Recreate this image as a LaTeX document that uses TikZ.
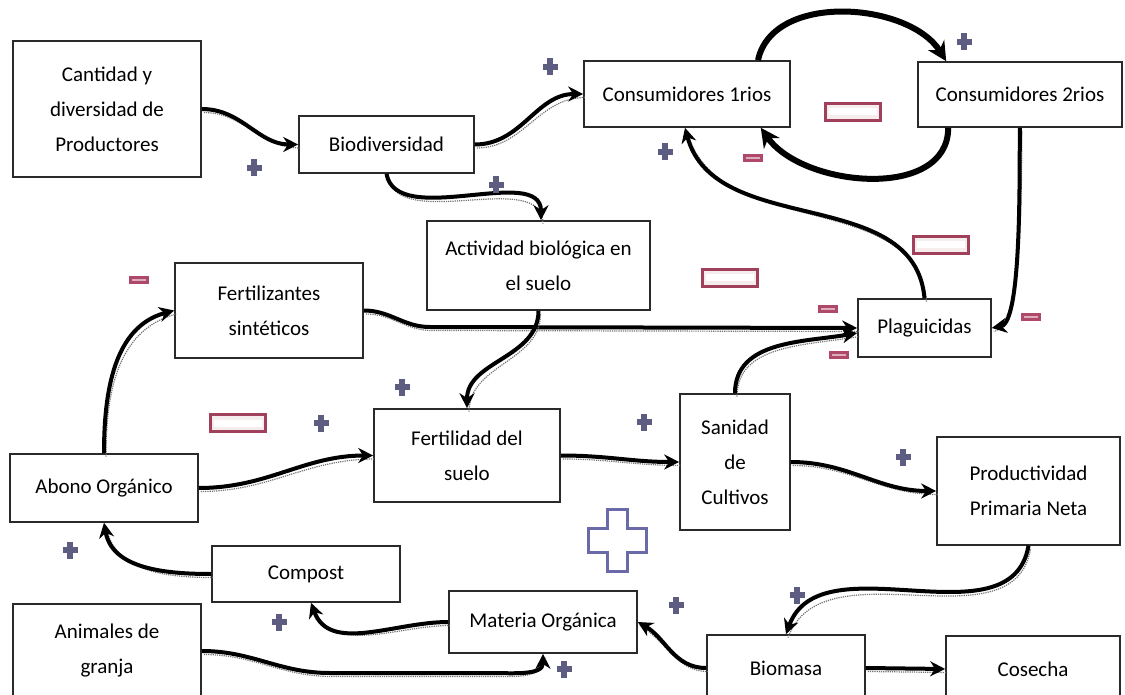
\documentclass[tikz,border=0pt]{standalone}
\usepackage{fontspec}
\setmainfont{Carlito}
\usetikzlibrary{arrows.meta}
\definecolor{plusc}{HTML}{5D5D82}
\definecolor{minusc}{HTML}{B0486A}
\definecolor{minusb}{HTML}{A0405A}
\definecolor{bigplusc}{HTML}{6A6AA8}
\definecolor{boxline}{HTML}{2A2A2A}
\tikzset{
 box/.style={draw=boxline, line width=1.6pt, fill=white, align=center, inner sep=0pt, font=\fontsize{21}{35}\selectfont},
 shade/.style={preaction={draw=black!55, densely dotted, line width=1.2pt, -, transform canvas={shift={(2pt,-3.5pt)}}}},
 link/.style={shade, line width=4pt, -{Stealth[length=15pt,width=15pt]}},
 thicklink/.style={line width=6pt, -{Stealth[length=19pt,width=19pt]}},
 splus/.pic={\fill[plusc] (-2.7,-8.5) rectangle (2.7,8.5); \fill[plusc] (-7.5,-2.7) rectangle (7.5,2.7);},
 sminus/.pic={\fill[minusc] (-10,-4) rectangle (10,4); \fill[minusc!45!white] (-7,-1.2) rectangle (7,1.2);},
 lminus/.pic={\draw[minusb, line width=3.8pt, fill=minusb!10] (-27.5,-8.5) rectangle (27.5,8.5); \fill[white] (-24,-3.5) rectangle (24,3.5);},
 bplus/.pic={\draw[bigplusc, line width=3pt, fill=white] (-10,-31) -- (10,-31) -- (10,-12) -- (29,-12) -- (29,12) -- (10,12) -- (10,31) -- (-10,31) -- (-10,12) -- (-29,12) -- (-29,-12) -- (-10,-12) -- cycle;},
}
\begin{document}
\begin{tikzpicture}[x=1pt,y=-1pt]
\useasboundingbox[fill=white] (0,0) rectangle (1125,695);
% boxes
\node[box, minimum width=188pt, minimum height=136pt] (cant) at (107,109) {Cantidad y\\diversidad de\\Productores};
\node[box, minimum width=175pt, minimum height=57pt] (bio) at (386.5,144.5) {Biodiversidad};
\node[box, minimum width=206pt, minimum height=66pt] (c1) at (687,94) {Consumidores 1rios};
\node[box, minimum width=204pt, minimum height=65pt] (c2) at (1020,94.5) {Consumidores 2rios};
\node[box, minimum width=223pt, minimum height=89pt] (act) at (538.5,265.5) {Actividad biológica en\\el suelo};
\node[box, minimum width=188pt, minimum height=95pt] (fert) at (269,310.5) {Fertilizantes\\sintéticos};
\node[box, minimum width=133pt, minimum height=58pt] (plag) at (924.5,328) {Plaguicidas};
\node[box, minimum width=186pt, minimum height=93pt] (fertil) at (467,455.5) {Fertilidad del\\suelo};
\node[box, minimum width=188pt, minimum height=68pt] (abono) at (104,488) {Abono Orgánico};
\node[box, minimum width=110pt, minimum height=136pt] (san) at (735,462) {Sanidad\\de\\Cultivos};
\node[box, minimum width=183pt, minimum height=108pt] (prod) at (1028.5,491) {Productividad\\Primaria Neta};
\node[box, minimum width=188pt, minimum height=56pt] (compost) at (306,574) {Compost};
\node[box, minimum width=188pt, minimum height=94pt] (anim) at (107,651) {Animales de\\granja};
\node[box, minimum width=188pt, minimum height=62pt] (mat) at (543,622) {Materia Orgánica};
\node[box, minimum width=158pt, minimum height=66pt] (biom) at (786,668) {Biomasa};
\node[box, minimum width=174pt, minimum height=66pt] (cos) at (1033,669) {Cosecha};
% helper coordinates
\coordinate (fstep) at (430,327);
\coordinate (astep) at (330,673);
\coordinate (astep2) at (490,673);
% connectors
\draw[link] (cant.east) to[out=0,in=180] (bio.west);
\draw[link] (bio.east) to[out=0,in=180] (c1.west);
\draw[link] (bio.south) to[out=-80,in=90,looseness=0.9] ([xshift=2.5pt]act.north);
\draw[thicklink] ([xshift=71pt]c1.north) to[out=78,in=122,looseness=0.95] ([xshift=29pt]c2.north west);
\draw[thicklink] ([xshift=31pt]c2.south west) to[out=-90,in=-55,looseness=1.0] ([xshift=-30pt]c1.south east);
\draw[link] (plag.north) to[out=95,in=-75] ([xshift=-2pt]c1.south);
\draw[link] (c2.south) to[out=-92,in=10,looseness=0.4] (plag.east);
\draw[link] (fert.east) to[out=0,in=180] (fstep) -- (plag.west);
\draw[link] (act.south) to[out=-90,in=90] (fertil.north);
\draw[link] (abono.north) to[out=90,in=195] (fert.west);
\draw[link] (abono.east) to[out=0,in=180] (fertil.west);
\draw[link] (fertil.east) to[out=0,in=180] (san.west);
\draw[link] (san.north) to[out=90,in=190] ([yshift=-5pt]plag.west);
\draw[link] (san.east) to[out=0,in=180] (prod.west);
\draw[link] (prod.south) to[out=-100,in=70] (biom.north);
\draw[link] (biom.west) to[out=180,in=-30] (mat.east);
\draw[link] (biom.east) -- (cos.west);
\draw[link] (mat.west) to[out=180,in=-70] ([xshift=5pt]compost.south);
\draw[link] (compost.west) to[out=180,in=-80] (abono.south);
\draw[link] (anim.east) to[out=0,in=180] (astep) -- (astep2) to[out=0,in=-90] (mat.south);
% signs
\foreach \p in {(254,168),(550,67),(496,185),(964,42),(665,152),(402,387),(321,423),(644,422),(903,457),(70,550),(279,622),(564,669),(797,595),(676,605)}
  \pic at \p {splus};
\foreach \p in {(139,280),(753,158),(828,309),(839,355),(1031,317)}
  \pic at \p {sminus};
\foreach \p in {(853,112),(238,423),(730,278),(941,245)}
  \pic at \p {lminus};
\pic at (617,540) {bplus};
\end{tikzpicture}
\end{document}
